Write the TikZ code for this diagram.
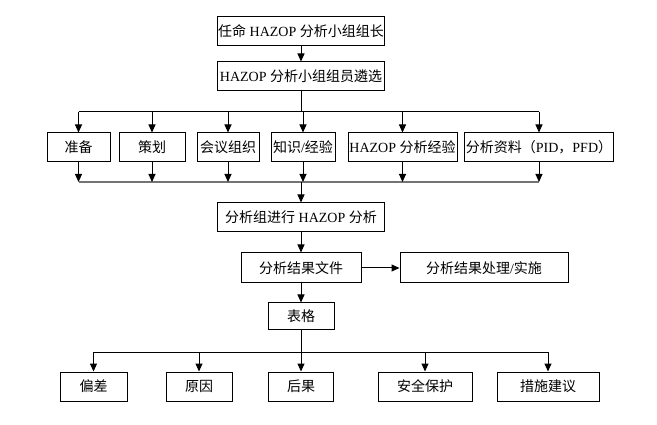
\documentclass[tikz,border=0pt]{standalone}
\usepackage{fontspec}
\setmainfont{Liberation Serif}
\newfontfamily\cjk{Noto Sans CJK SC}
\usetikzlibrary{arrows.meta}
\begin{document}
\begin{tikzpicture}[x=1pt,y=-1pt,
  box/.style={draw,line width=1pt,inner sep=1pt,minimum height=29pt,font=\fontsize{14pt}{16pt}\selectfont},
  arr/.style={line width=1pt,-{Triangle[length=8pt,width=7pt]}},
  ln/.style={line width=1pt},
  gln/.style={line width=1.2pt,draw=black!55}]
\useasboundingbox (0,0) rectangle (657,425);
% top
\node[box,minimum width=167pt] (t1) at (301,31.5) {{\cjk 任命} HAZOP {\cjk 分析小组组长}};
\node[box,minimum width=167pt] (t2) at (301,76.5) {HAZOP {\cjk 分析小组组员遴选}};
% row
\node[box,minimum width=63pt] (r1) at (78.5,147.5) {\cjk 准备};
\node[box,minimum width=66pt] (r2) at (152,147.5) {\cjk 策划};
\node[box,minimum width=62pt] (r3) at (228,147.5) {\cjk 会议组织};
\node[box,minimum width=64pt] (r4) at (303,147.5) {{\cjk 知识}/{\cjk 经验}};
\node[box,minimum width=109pt] (r5) at (402.5,147.5) {HAZOP {\cjk 分析经验}};
\node[box,minimum width=148pt] (r6) at (539,147.5) {{\cjk 分析资料（}PID{\cjk ，}PFD{\cjk ）}};
% middle
\node[box,minimum width=167pt] (a1) at (301,217.5) {{\cjk 分析组进行} HAZOP {\cjk 分析}};
\node[box,minimum width=120pt,minimum height=30pt] (f1) at (301,268) {\cjk 分析结果文件};
\node[box,minimum width=168pt,minimum height=30pt] (f2) at (484,268) {{\cjk 分析结果处理}/{\cjk 实施}};
\node[box,minimum width=66pt,minimum height=27pt] (g1) at (301,316.5) {\cjk 表格};
% bottom
\node[box,minimum width=67pt] (b1) at (93.5,386.5) {\cjk 偏差};
\node[box,minimum width=66pt] (b2) at (199,386.5) {\cjk 原因};
\node[box,minimum width=65pt] (b3) at (301,386.5) {\cjk 后果};
\node[box,minimum width=94pt] (b4) at (425,386.5) {\cjk 安全保护};
\node[box,minimum width=102pt] (b5) at (548,386.5) {\cjk 措施建议};
% buses
\coordinate (bus1) at (0,112);
\coordinate (bus2) at (0,182);
\coordinate (bus3) at (0,352);
% connectors
\draw[arr] (t1) -- (t2);
\draw[ln] (t2.south) -- (t2.south |- bus1);
\draw[ln] (r1.north |- bus1) -- (r6.north |- bus1);
\foreach \n in {r1,r2,r3,r4,r5,r6} {
  \draw[arr] (\n.north |- bus1) -- (\n.north);
}
\draw[gln] (r1.south |- bus2) -- (r6.south |- bus2);
\foreach \n in {r1,r2,r3,r4,r5,r6} {
  \draw[arr] (\n.south) -- (\n.south |- bus2);
}
\draw[arr] (a1.north |- bus2) -- (a1.north);
\draw[arr] (a1) -- (f1);
\draw[arr] (f1) -- (f2);
\draw[arr] (f1) -- (g1);
\draw[ln] (g1.south) -- (g1.south |- bus3);
\draw[ln] (b1.north |- bus3) -- (b5.north |- bus3);
\foreach \n in {b1,b2,b3,b4,b5} {
  \draw[arr] (\n.north |- bus3) -- (\n.north);
}
\end{tikzpicture}
\end{document}
